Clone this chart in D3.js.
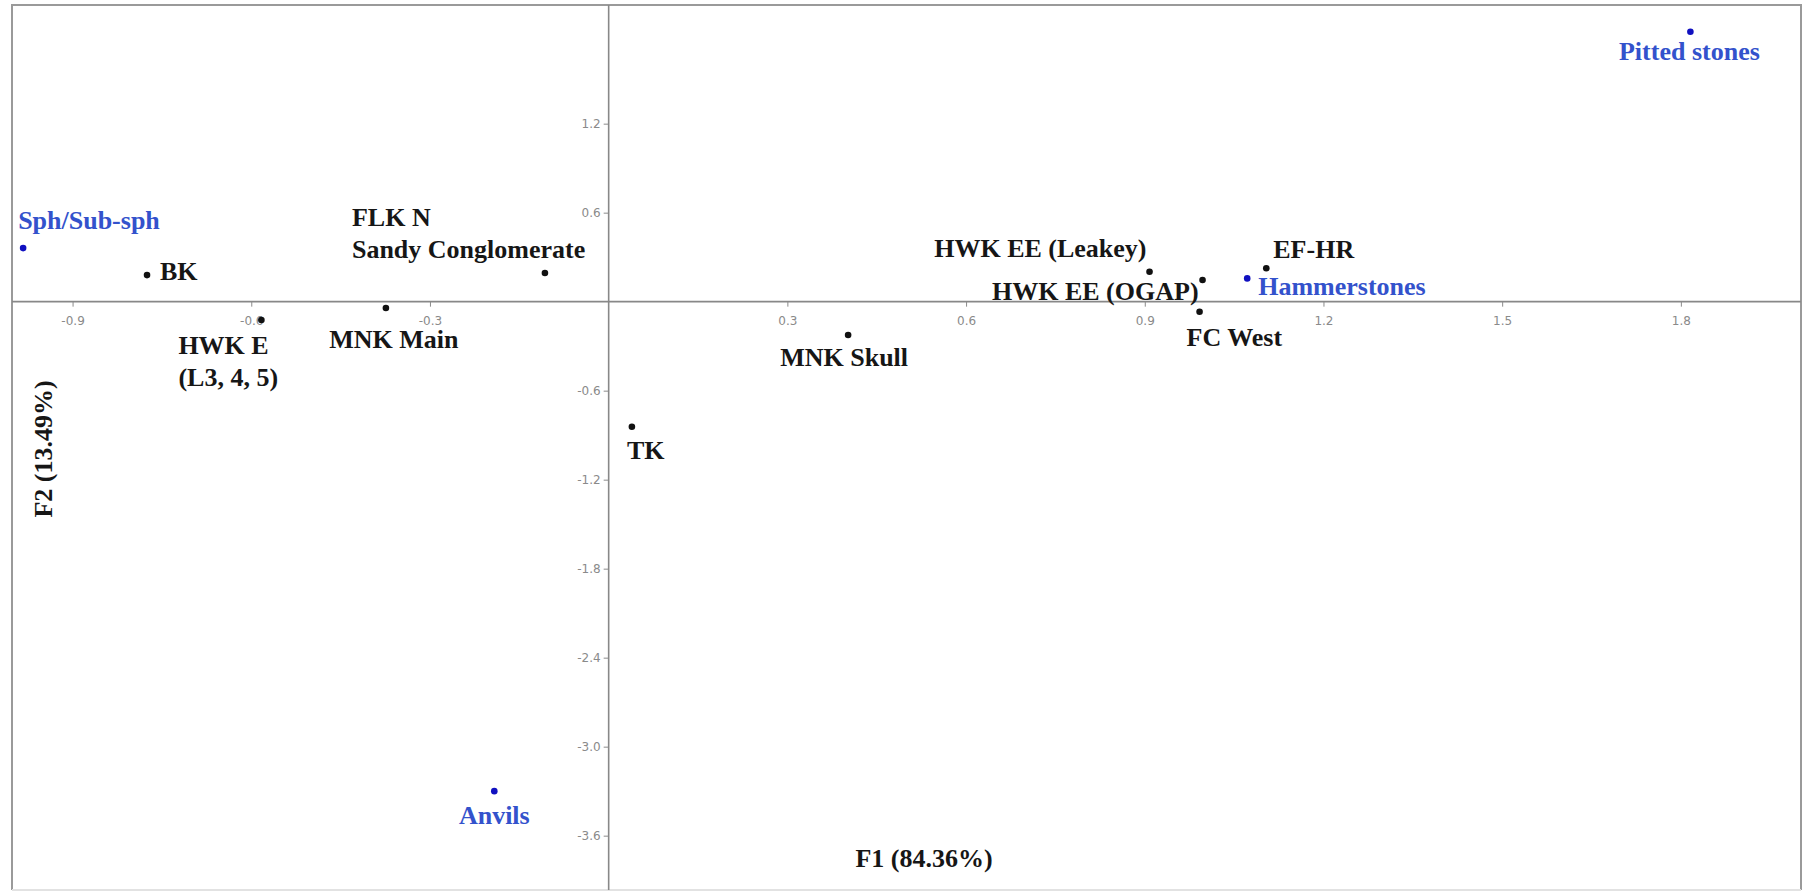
<!DOCTYPE html>
<html>
<head>
<meta charset="utf-8">
<script src="https://cdn.jsdelivr.net/npm/d3@7"></script>
<style>
  body { margin: 0; background: #fff; }
  .lbl { font-family: "Liberation Serif", "Times New Roman", serif; font-weight: bold; font-size: 26px; }
  .tick text { font-family: "DejaVu Sans", Arial, sans-serif; font-size: 12px; fill: #8a8a8a; }
  .tick line { stroke: #8a8a8a; }
</style>
</head>
<body>
<div id="chart"></div>
<script>
// points of the correspondence analysis
var names = ["Pitted stones", "Sph/Sub-sph", "BK", "HWK E\n(L3, 4, 5)", "MNK Main",
  "FLK N\nSandy Conglomerate", "TK", "MNK Skull", "HWK EE (Leakey)", "HWK EE (OGAP)",
  "FC West", "Hammerstones", "EF-HR", "Anvils"];
var f1 = [1.816, -0.983, -0.775, -0.583, -0.374, -0.107, 0.039, 0.402, 0.908, 0.997, 0.992, 1.072, 1.104, -0.192];
var f2 = [1.82, 0.361, 0.179, -0.124, -0.043, 0.193, -0.843, -0.225, 0.202, 0.146, -0.068, 0.157, 0.225, -3.30];
var kind = ["tool", "tool", "site", "site", "site", "site", "site", "site", "site", "site", "site", "tool", "site", "tool"];

var xTicks = [-0.9, -0.6, -0.3, 0.3, 0.6, 0.9, 1.2, 1.5, 1.8];
var yTicks = [1.2, 0.6, -0.6, -1.2, -1.8, -2.4, -3.0, -3.6];
var xTitle = "F1 (84.36%)";
var yTitle = "F2 (13.49%)";

// where each label sits relative to its dot
var labelPos = {
  "Pitted stones": { dx: -1, dy: 28, anchor: "middle" },
  "Sph/Sub-sph": { dx: -5, dy: -19, anchor: "start" },
  "BK": { dx: 13, dy: 5, anchor: "start" },
  "HWK E\n(L3, 4, 5)": { dx: -83, dy: 34, anchor: "start" },
  "MNK Main": { dx: 8, dy: 40, anchor: "middle" },
  "FLK N\nSandy Conglomerate": { dx: -193, dy: -47, anchor: "start" },
  "TK": { dx: -5, dy: 32, anchor: "start" },
  "MNK Skull": { dx: -4, dy: 31, anchor: "middle" },
  "HWK EE (Leakey)": { dx: -3, dy: -15, anchor: "end" },
  "HWK EE (OGAP)": { dx: -4, dy: 20, anchor: "end" },
  "FC West": { dx: -13, dy: 34, anchor: "start" },
  "Hammerstones": { dx: 11, dy: 17, anchor: "start" },
  "EF-HR": { dx: 7, dy: -10, anchor: "start" },
  "Anvils": { dx: 0, dy: 33, anchor: "middle" }
};

var width = 1805, height = 891;
var box = { left: 12, top: 5, right: 1801, bottom: 890 };

var svg = d3.select("#chart").append("svg")
  .attr("width", width)
  .attr("height", height);

var xScale = d3.scaleLinear().domain([-1, 2]).range([13, 1800]);
var yScale = d3.scaleLinear().domain([2, -4]).range([5, 895]);

// frame: grey on three sides, faint at the bottom
svg.append("path")
  .attr("d", "M" + box.left + "," + box.bottom + "V" + box.top + "H" + box.right + "V" + box.bottom)
  .attr("fill", "none").attr("stroke", "#9a9a9a").attr("stroke-width", 2);
svg.append("line")
  .attr("x1", box.left).attr("x2", box.right)
  .attr("y1", box.bottom).attr("y2", box.bottom)
  .attr("stroke", "#e2e2e2").attr("stroke-width", 2);

// zero lines
svg.append("line")
  .attr("x1", box.left).attr("x2", box.right)
  .attr("y1", yScale(0)).attr("y2", yScale(0))
  .attr("stroke", "#888").attr("stroke-width", 1.6);
svg.append("line")
  .attr("x1", xScale(0)).attr("x2", xScale(0))
  .attr("y1", box.top).attr("y2", box.bottom)
  .attr("stroke", "#888").attr("stroke-width", 1.6);

var xAxis = d3.axisBottom(xScale).tickValues(xTicks).tickSize(5).tickPadding(10)
  .tickFormat(function(d) { return d.toFixed(1); });
var yAxis = d3.axisLeft(yScale).tickValues(yTicks).tickSize(5).tickPadding(3)
  .tickFormat(function(d) { return d.toFixed(1); });

svg.append("g")
  .attr("transform", "translate(0," + yScale(0) + ")")
  .call(xAxis)
  .call(function(g) { g.select(".domain").remove(); });
svg.append("g")
  .attr("transform", "translate(" + xScale(0) + ",0)")
  .call(yAxis)
  .call(function(g) { g.select(".domain").remove(); });

var pts = names.map(function(n, i) {
  return { name: n, x: f1[i], y: f2[i], kind: kind[i] };
});

svg.append("g").selectAll("circle")
  .data(pts)
  .enter()
  .append("circle")
  .attr("cx", function(d) { return xScale(d.x); })
  .attr("cy", function(d) { return yScale(d.y); })
  .attr("r", 3.3)
  .attr("fill", function(d) { return d.kind == "tool" ? "#1010c0" : "#111"; });

var labels = svg.append("g").selectAll("text")
  .data(pts)
  .enter()
  .append("text")
  .attr("class", "lbl")
  .attr("fill", function(d) { return d.kind == "tool" ? "#3352cc" : "#161616"; })
  .attr("text-anchor", function(d) { return labelPos[d.name].anchor; })
  .attr("transform", function(d) {
    var p = labelPos[d.name];
    return "translate(" + (xScale(d.x) + p.dx) + "," + (yScale(d.y) + p.dy) + ")";
  });

labels.each(function(d) {
  var lines = d.name.split("\n");
  var t = d3.select(this);
  lines.forEach(function(l, i) {
    t.append("tspan").attr("x", 0).attr("y", i * 32).text(l);
  });
});

// axis titles
svg.append("text")
  .attr("class", "lbl")
  .attr("x", 924).attr("y", 867)
  .attr("text-anchor", "middle")
  .attr("fill", "#161616")
  .text(xTitle);

svg.append("text")
  .attr("class", "lbl")
  .attr("transform", "translate(52,449) rotate(-90)")
  .attr("text-anchor", "middle")
  .attr("fill", "#161616")
  .text(yTitle);
</script>
</body>
</html>
